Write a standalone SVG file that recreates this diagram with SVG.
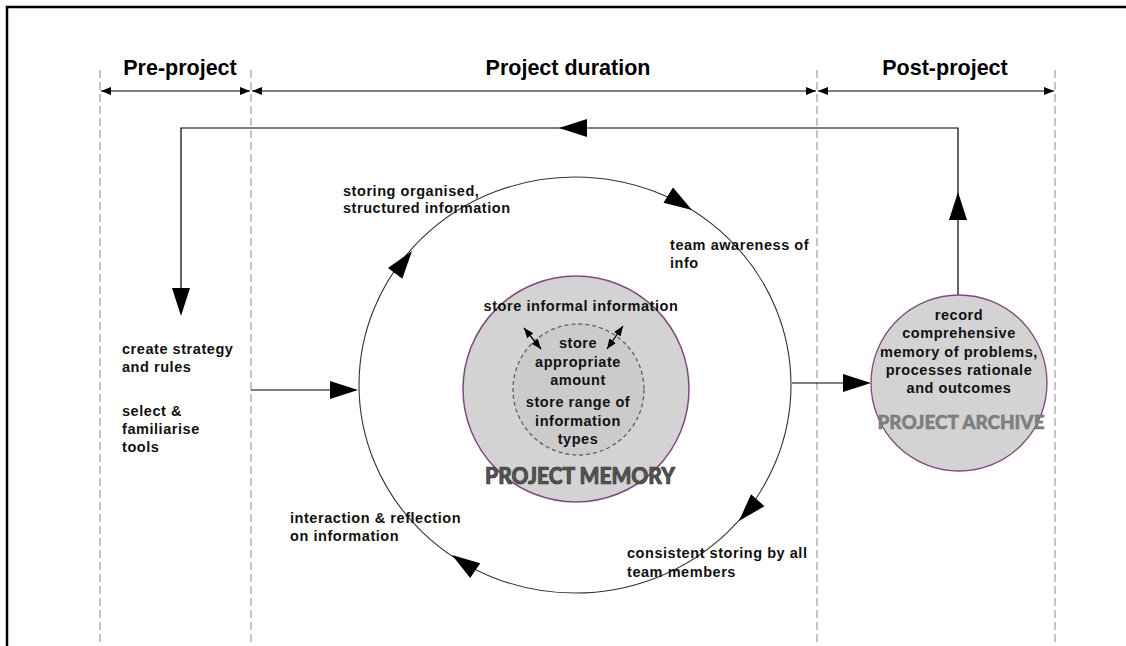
<svg xmlns="http://www.w3.org/2000/svg" xmlns:xlink="http://www.w3.org/1999/xlink" width="1126" height="646" viewBox="0 0 1126 646">
<style>
.lbl{font-family:"Liberation Sans",Arial,sans-serif;font-weight:bold;font-size:14.5px;letter-spacing:0.55px;fill:#111}
.hdr{font-family:"Liberation Sans",Arial,sans-serif;font-weight:bold;font-size:21.5px;fill:#000;text-anchor:middle}
.mid{text-anchor:middle}
.dash{stroke:#8a8a8a;stroke-width:1;stroke-dasharray:8,4;fill:none}
.ln{stroke:#000;stroke-width:1.2;fill:none}
.big{font-family:Lato,"DejaVu Sans",sans-serif;font-weight:900;text-anchor:middle}
</style>
<defs>
<path id="ah" d="M0,0 L-28,-9 L-28,9 Z" fill="#000"/>
<marker id="sm" viewBox="0 0 10 8" refX="10" refY="4" markerWidth="10" markerHeight="8" markerUnits="userSpaceOnUse" orient="auto-start-reverse">
<path d="M0,0 L10,4 L0,8 Z" fill="#000"/>
</marker>
</defs>
<rect width="1126" height="646" fill="#fff"/>
<path d="M7,646 V7 H1126" fill="none" stroke="#000" stroke-width="2.5"/>

<g id="timeline">
<line class="dash" x1="100" y1="70" x2="100" y2="646"/>
<line class="dash" x1="251" y1="70" x2="251" y2="646"/>
<line class="dash" x1="817" y1="70" x2="817" y2="646"/>
<line class="dash" x1="1055" y1="70" x2="1055" y2="646"/>
<line x1="101" y1="91" x2="250" y2="91" stroke="#000" stroke-width="1.2" marker-start="url(#sm)" marker-end="url(#sm)"/>
<line x1="252" y1="91" x2="816" y2="91" stroke="#000" stroke-width="1.2" marker-start="url(#sm)" marker-end="url(#sm)"/>
<line x1="818" y1="91" x2="1054" y2="91" stroke="#000" stroke-width="1.2" marker-start="url(#sm)" marker-end="url(#sm)"/>
<text class="hdr" x="180" y="75">Pre-project</text>
<text class="hdr" x="568" y="75">Project duration</text>
<text class="hdr" x="945" y="75">Post-project</text>
</g>

<g id="cycle">
<ellipse cx="575" cy="385" rx="216" ry="208" fill="none" stroke="#333" stroke-width="1.1"/>
<use xlink:href="#ah" transform="translate(412,251) rotate(-53)"/>
<use xlink:href="#ah" transform="translate(692,210) rotate(32)"/>
<use xlink:href="#ah" transform="translate(739,521) rotate(132)"/>
<use xlink:href="#ah" transform="translate(452,555) rotate(-146)"/>
</g>

<g id="connectors">
<path class="ln" d="M958,295 V128 H181 V300"/>
<use xlink:href="#ah" transform="translate(559,128) rotate(180)"/>
<use xlink:href="#ah" transform="translate(958,192) rotate(-90)"/>
<use xlink:href="#ah" transform="translate(181,316) rotate(90)"/>
<path class="ln" d="M251,390 H340"/>
<use xlink:href="#ah" transform="translate(358,390)"/>
<path class="ln" d="M792,383 H850"/>
<use xlink:href="#ah" transform="translate(871,383)"/>
</g>

<g id="project-memory">
<circle cx="576" cy="389" r="113" fill="#d3d3d3" stroke="#7d4a7d" stroke-width="1.5"/>
<circle cx="578.5" cy="389.5" r="65.5" fill="#cbcbcb" stroke="#6a556a" stroke-width="1.3" stroke-dasharray="4,3"/>
<line x1="524" y1="328" x2="541" y2="349" stroke="#000" stroke-width="1.3" marker-start="url(#sm)" marker-end="url(#sm)"/>
<line x1="623" y1="326" x2="607" y2="349" stroke="#000" stroke-width="1.3" marker-start="url(#sm)" marker-end="url(#sm)"/>
<text class="lbl mid" x="581" y="311">store informal information</text>
<text class="lbl mid" x="578" y="348">store</text>
<text class="lbl mid" x="578" y="367">appropriate</text>
<text class="lbl mid" x="578" y="385">amount</text>
<text class="lbl mid" x="578" y="407">store range of</text>
<text class="lbl mid" x="578" y="426">information</text>
<text class="lbl mid" x="578" y="444">types</text>
<text class="big" x="580" y="484" font-size="23" fill="#555" stroke="#333" stroke-width="0.7" textLength="190" lengthAdjust="spacingAndGlyphs">PROJECT MEMORY</text>
</g>

<g id="project-archive">
<circle cx="959" cy="383" r="88" fill="#d3d3d3" stroke="#7d4a7d" stroke-width="1.3"/>
<text class="lbl mid" x="959" y="320">record</text>
<text class="lbl mid" x="959" y="338">comprehensive</text>
<text class="lbl mid" x="959" y="357">memory of problems,</text>
<text class="lbl mid" x="959" y="375">processes  rationale</text>
<text class="lbl mid" x="959" y="393">and outcomes</text>
<text class="big" x="961" y="429" font-size="18" fill="#808080" stroke="#707070" stroke-width="0.4" textLength="167" lengthAdjust="spacingAndGlyphs">PROJECT ARCHIVE</text>
</g>

<g id="labels">
<text class="lbl" x="122" y="354">create strategy</text>
<text class="lbl" x="122" y="372">and rules</text>
<text class="lbl" x="122" y="416">select &amp;</text>
<text class="lbl" x="122" y="434">familiarise</text>
<text class="lbl" x="122" y="452">tools</text>
<text class="lbl" x="343" y="196">storing organised,</text>
<text class="lbl" x="343" y="213">structured information</text>
<text class="lbl" x="670" y="250">team awareness of</text>
<text class="lbl" x="670" y="268">info</text>
<text class="lbl" x="290" y="523">interaction &amp; reflection</text>
<text class="lbl" x="290" y="541">on information</text>
<text class="lbl" x="627" y="558">consistent storing by all</text>
<text class="lbl" x="627" y="577">team members</text>
</g>
</svg>
